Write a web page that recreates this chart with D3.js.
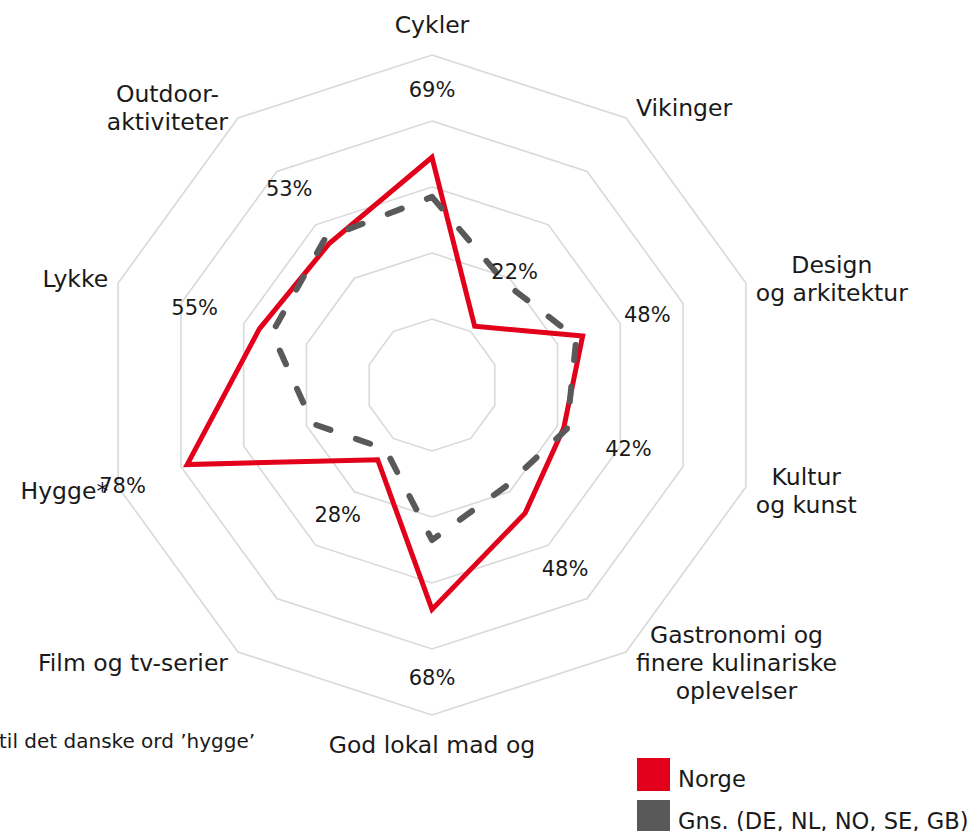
<!DOCTYPE html>
<html>
<head>
<meta charset="utf-8">
<script src="https://cdn.jsdelivr.net/npm/d3@7"></script>
<style>
  html, body { margin: 0; padding: 0; background: #fff; overflow: hidden; }
  svg { display: block; font-family: 'DejaVu Sans', sans-serif; }
</style>
</head>
<body>
<svg id="chart" width="973" height="831"></svg>
<script>
// axis labels, clockwise from the top
const categories = [
  'Cykler',
  'Vikinger',
  'Design\nog arkitektur',
  'Kultur\nog kunst',
  'Gastronomi og\nfinere kulinariske\noplevelser',
  'God lokal mad og',
  'Film og tv-serier',
  'Hygge*',
  'Lykke',
  'Outdoor-\naktiviteter',
];
const norge = [69, 22, 48, 42, 48, 68, 28, 78, 55, 53];
const gns = [57, 38, 46, 43, 38, 47, 24, 38, 51, 55];
const rings = [20, 40, 60, 80, 100];
const seriesNames = ['Norge', 'Gns. (DE, NL, NO, SE, GB)'];
const footnote = 'til det danske ord ’hygge’';

const RED = '#e2001a';
const GREY = '#595959';

const svg = d3.select('#chart');
const cx = 432;
const cy = 385;
const n = categories.length;

const r = d3.scaleLinear().domain([0, 100]).range([0, 330]);
const angle = (i) => (i * 2 * Math.PI) / n;
const pt = (i, v) => [cx + r(v) * Math.sin(angle(i)), cy - r(v) * Math.cos(angle(i))];

const radial = d3
  .lineRadial()
  .angle((d, i) => angle(i))
  .radius((d) => r(d))
  .curve(d3.curveLinearClosed);

const g = svg.append('g').attr('transform', `translate(${cx},${cy})`);

// grid rings
g.selectAll('.ring')
  .data(rings)
  .enter()
  .append('path')
  .attr('class', 'ring')
  .attr('d', (v) => radial(d3.range(n).map(() => v)))
  .attr('fill', 'none')
  .attr('stroke', '#d9d9d9')
  .attr('stroke-width', 1.6);

// series
g.append('path')
  .attr('d', radial(norge))
  .attr('fill', 'none')
  .attr('stroke', RED)
  .attr('stroke-width', 5)
  .attr('stroke-linejoin', 'miter');

g.append('path')
  .attr('d', radial(gns))
  .attr('fill', 'none')
  .attr('stroke', GREY)
  .attr('stroke-width', 6)
  .attr('stroke-linecap', 'round')
  .attr('stroke-linejoin', 'round')
  .attr('stroke-dasharray', '15,27');

// value labels (Norge)
svg.selectAll('.val')
  .data(norge)
  .enter()
  .append('text')
  .attr('class', 'val')
  .attr('x', (d, i) => cx + (r(d) + 68) * Math.sin(angle(i)))
  .attr('y', (d, i) => cy - (r(d) + 68) * Math.cos(angle(i)))
  .attr('dy', '0.35em')
  .attr('text-anchor', 'middle')
  .attr('font-size', 21)
  .attr('fill', '#1a1a1a')
  .text((d) => d + '%');

// axis labels
const lineH = 28;
categories.forEach((label, i) => {
  const lines = label.split('\n');
  const [vx, vy] = pt(i, 100);
  const s = Math.sin(angle(i));
  const c = Math.cos(angle(i));
  const t = svg
    .append('text')
    .attr('font-size', 23.5)
    .attr('fill', '#1a1a1a')
    .attr('text-anchor', 'middle');
  const spans = lines.map((l) => t.append('tspan').text(l));
  const w = d3.max(spans, (sp) => sp.node().getComputedTextLength());
  let x;
  let yc;
  if (Math.abs(s) < 0.1) {
    x = vx;
    yc = vy - c * 30;
  } else {
    x = s > 0 ? vx + 10 + w / 2 : vx - 10 - w / 2;
    yc = vy - c * 13;
  }
  const y0 = yc - ((lines.length - 1) * lineH) / 2;
  spans.forEach((sp, k) => sp.attr('x', x).attr('y', y0 + k * lineH).attr('dy', '0.35em'));
});

// footnote (cut off at the left edge)
svg.append('text')
  .attr('x', -1)
  .attr('y', 748)
  .attr('font-size', 20)
  .attr('fill', '#1a1a1a')
  .text(footnote);

// legend
const legend = svg.append('g').attr('transform', 'translate(637,758)');
seriesNames.forEach((name, k) => {
  legend.append('rect')
    .attr('x', 0)
    .attr('y', k * 42)
    .attr('width', 33)
    .attr('height', 33)
    .attr('fill', k === 0 ? RED : GREY);
  legend.append('text')
    .attr('x', 41)
    .attr('y', k * 42 + 29)
    .attr('font-size', 22.6)
    .attr('fill', '#1a1a1a')
    .text(name);
});
</script>
</body>
</html>
